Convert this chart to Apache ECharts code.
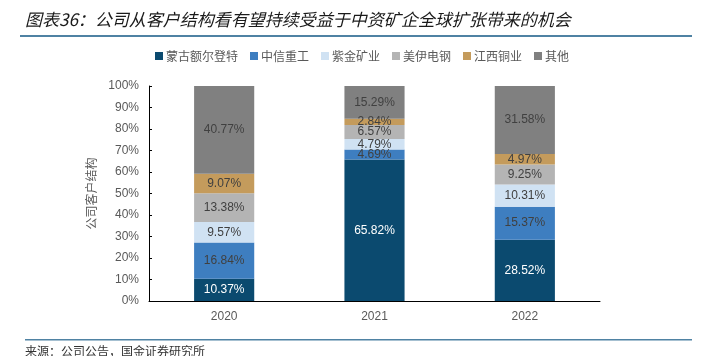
<!DOCTYPE html>
<html><head><meta charset="utf-8">
<script src="https://cdn.jsdelivr.net/npm/echarts@6/dist/echarts.min.js"></script>
<style>html,body{margin:0;padding:0;background:#fff}#c{width:714px;height:356px}</style>
</head><body><div id="c"></div>
<script>
const categories = ['2020', '2021', '2022'];
const seriesNames = ['蒙古额尔登特', '中信重工', '紫金矿业', '美伊电钢', '江西铜业', '其他'];
const s_mongolia = [10.37, 65.82, 28.52];
const s_citic = [16.84, 4.69, 15.37];
const s_zijin = [9.57, 4.79, 10.31];
const s_meiyi = [13.38, 6.57, 9.25];
const s_jiangxi = [9.07, 2.84, 4.97];
const s_other = [40.77, 15.29, 31.58];
const yTicks = [0, 10, 20, 30, 40, 50, 60, 70, 80, 90, 100];

const colors = ['#0b4a6f', '#3e7ec0', '#d0e2f3', '#b4b4b4', '#c49b5c', '#808080'];
const labelColors = ['#ffffff', '#404040', '#404040', '#404040', '#404040', '#404040'];
const data = [s_mongolia, s_citic, s_zijin, s_meiyi, s_jiangxi, s_other];
const FONT = '"Liberation Sans", "Noto Sans CJK SC", sans-serif';

const chart = echarts.init(document.getElementById('c'), null, {renderer: 'canvas'});
chart.setOption({
  animation: false,
  textStyle: {fontFamily: FONT},
  title: {
    text: '图表36：公司从客户结构看有望持续受益于中资矿企全球扩张带来的机会',
    left: 20, top: 6,
    textStyle: {fontSize: 17, fontWeight: 'normal', fontStyle: 'italic', color: '#1a1a1a', fontFamily: '"Noto Sans CJK SC", sans-serif'}
  },
  graphic: [
    {type: 'rect', shape: {x: 20, y: 35, width: 672, height: 2}, style: {fill: '#4f82a3'}},
    {type: 'rect', shape: {x: 25, y: 339, width: 667, height: 1.5}, style: {fill: '#4f82a3'}},
    {type: 'text', left: 25, top: 345, style: {text: '来源：公司公告，国金证券研究所', fontSize: 12, fill: '#333', fontFamily: '"Noto Sans CJK SC", sans-serif'}}
  ],
  legend: {
    top: 45, left: 150,
    itemWidth: 8, itemHeight: 8, itemGap: 12,
    icon: 'rect',
    textStyle: {fontSize: 12, color: '#595959', fontFamily: '"Noto Sans CJK SC", sans-serif', padding: [0, 0, 0, -2]},
    data: seriesNames
  },
  grid: {left: 149, right: 114, top: 86, bottom: 55},
  xAxis: {
    type: 'category', data: categories,
    axisLine: {lineStyle: {color: '#000', width: 1}},
    axisTick: {inside: true, length: 4, lineStyle: {color: '#000'}},
    axisLabel: {color: '#595959', fontSize: 12, margin: 10}
  },
  yAxis: {
    type: 'value', min: 0, max: 100, interval: 10,
    name: '公司客户结构', nameLocation: 'middle', nameGap: 42, nameRotate: 90,
    nameTextStyle: {color: '#595959', fontSize: 12, fontFamily: '"Noto Sans CJK SC", sans-serif'},
    axisLine: {show: true, lineStyle: {color: '#000', width: 1}},
    axisTick: {show: true, inside: true, length: 3, lineStyle: {color: '#000'}},
    splitLine: {show: false},
    axisLabel: {color: '#595959', fontSize: 12, margin: 10, formatter: v => yTicks.includes(v) ? v + '%' : ''}
  },
  series: seriesNames.map((n, i) => ({
    name: n, type: 'bar', stack: 'total', barWidth: '40%',
    data: data[i],
    itemStyle: {color: colors[i]},
    label: {show: true, position: 'inside', formatter: p => p.value.toFixed(2) + '%', color: labelColors[i], fontSize: 12, fontFamily: FONT}
  }))
});
</script></body></html>
